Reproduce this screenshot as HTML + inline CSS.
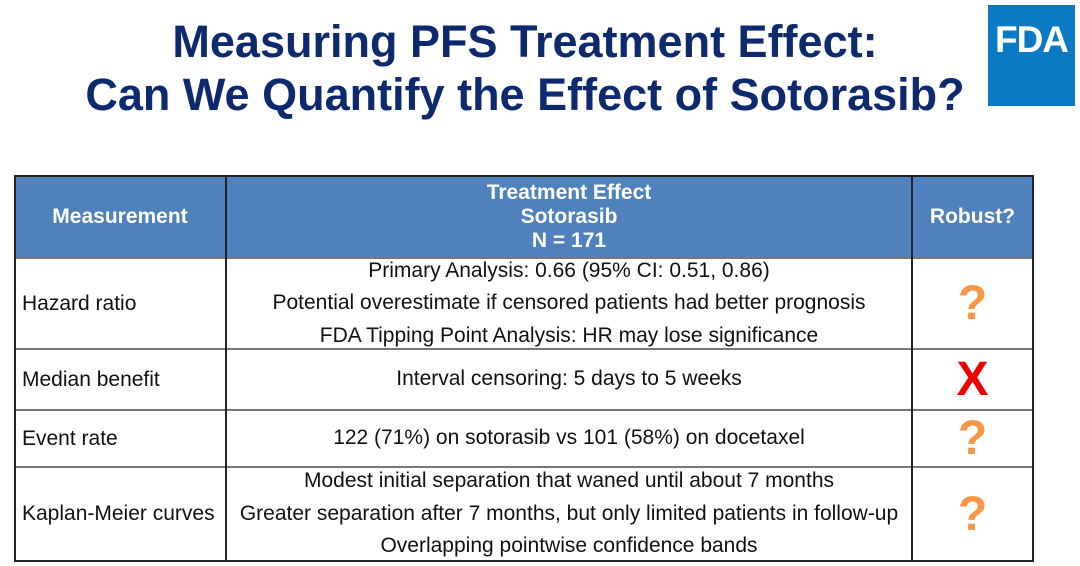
<!DOCTYPE html>
<html><head><meta charset="utf-8"><style>
body{margin:0;width:1080px;height:566px;background:#fff;position:relative;overflow:hidden;font-family:"Liberation Sans",Arial,sans-serif}
.t{position:absolute;left:0;width:1050px;text-align:center;color:#0d2a6e;font-weight:bold;font-size:45px;line-height:52px}
#logo{position:absolute;left:988px;top:5px;width:87px;height:101px;background:#0a7ac4;color:#fff;font-weight:bold;font-size:37px;text-align:center;line-height:70px;letter-spacing:-1px}
.c{position:absolute;box-sizing:border-box;display:flex;flex-direction:column;justify-content:center;font-size:21px;color:#111}
.h{background:#4f81bd;color:#fff;font-weight:bold;align-items:center;text-align:center;line-height:24px}
.m{align-items:center;text-align:center;line-height:32.5px}
.l{padding-left:8px}
.q{align-items:center;color:#f79646;font-size:48px;font-weight:bold}
.x{align-items:center;color:#e00;font-size:48px;font-weight:bold}
.hl,.vl{position:absolute;background:#222}
</style></head><body>
<div class="t" style="top:16px">Measuring PFS Treatment Effect:</div>
<div class="t" style="top:69px">Can We Quantify the Effect of Sotorasib?</div>
<div id="logo">FDA</div>

<div class="c h" style="left:14px;top:176px;width:212px;height:82px">Measurement</div>
<div class="c h" style="left:226px;top:176px;width:686px;height:82px">Treatment Effect<br>Sotorasib<br>N = 171</div>
<div class="c h" style="left:912px;top:176px;width:121px;height:82px">Robust?</div>

<div class="c l" style="left:14px;top:258px;width:212px;height:91px">Hazard ratio</div>
<div class="c m" style="left:226px;top:258px;width:686px;height:91px">Primary Analysis: 0.66 (95% CI: 0.51, 0.86)<br>Potential overestimate if censored patients had better prognosis<br>FDA Tipping Point Analysis: HR may lose significance</div>
<div class="c q" style="left:912px;top:258px;width:121px;height:91px">?</div>

<div class="c l" style="left:14px;top:349px;width:212px;height:61px">Median benefit</div>
<div class="c m" style="left:226px;top:349px;width:686px;height:61px">Interval censoring: 5 days to 5 weeks</div>
<div class="c x" style="left:912px;top:349px;width:121px;height:61px">X</div>

<div class="c l" style="left:14px;top:410px;width:212px;height:57px">Event rate</div>
<div class="c m" style="left:226px;top:410px;width:686px;height:57px">122 (71%) on sotorasib vs 101 (58%) on docetaxel</div>
<div class="c q" style="left:912px;top:410px;width:121px;height:57px">?</div>

<div class="c l" style="left:14px;top:467px;width:212px;height:94px">Kaplan-Meier curves</div>
<div class="c m" style="left:226px;top:467px;width:686px;height:94px">Modest initial separation that waned until about 7 months<br>Greater separation after 7 months, but only limited patients in follow-up<br>Overlapping pointwise confidence bands</div>
<div class="c q" style="left:912px;top:467px;width:121px;height:94px">?</div>

<div class="hl" style="left:14px;top:175px;width:1020px;height:2px"></div>
<div class="hl" style="left:14px;top:257px;width:1020px;height:2px;background:#777"></div>
<div class="hl" style="left:14px;top:348px;width:1020px;height:2px;background:#777"></div>
<div class="hl" style="left:14px;top:409px;width:1020px;height:2px;background:#777"></div>
<div class="hl" style="left:14px;top:466px;width:1020px;height:2px;background:#777"></div>
<div class="hl" style="left:14px;top:560px;width:1020px;height:2px"></div>
<div class="vl" style="left:14px;top:175px;width:2px;height:387px"></div>
<div class="vl" style="left:225px;top:175px;width:2px;height:387px"></div>
<div class="vl" style="left:911px;top:175px;width:2px;height:387px"></div>
<div class="vl" style="left:1032px;top:175px;width:2px;height:387px"></div>
</body></html>
